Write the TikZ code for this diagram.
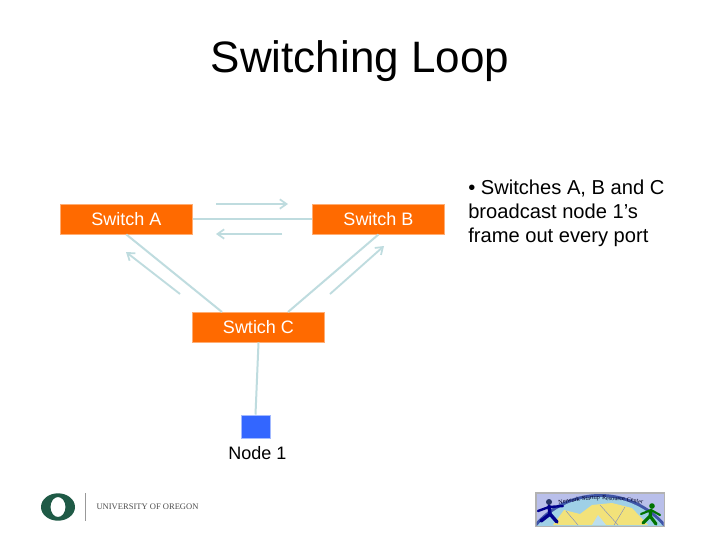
\documentclass[tikz,border=0pt]{standalone}
\usepackage{fontspec}
\setmainfont{Liberation Sans}
\newfontfamily\serifx{Liberation Serif}
\usetikzlibrary{arrows.meta}
\definecolor{linkc}{HTML}{BFDCDF}
\definecolor{orangec}{HTML}{FF6A00}
\definecolor{bluec}{HTML}{3366FF}
\definecolor{greenc}{HTML}{1F5A46}
\definecolor{skyc}{HTML}{B9BFEA}
\definecolor{seac}{HTML}{9FD0E6}
\definecolor{landc}{HTML}{F2E27A}
\definecolor{rimc}{HTML}{3F55A8}
\tikzset{
  switchbox/.style={fill=orangec,draw=orangec!55!white,line width=0.5pt,minimum width=99pt,minimum height=22.2pt,inner sep=0pt,text=white,font=\fontsize{13.5}{16}\selectfont},
  link/.style={draw=linkc,line width=1.5pt},
  flow/.style={draw=linkc,line width=1.4pt,-{Straight Barb[length=5pt,width=7pt,line width=1.3pt]}},
  lbl/.style={inner sep=0pt,font=\fontsize{13.5}{16}\selectfont},
  nsword/.style={inner sep=0pt,text=black!85!blue,font=\serifx\fontsize{4.6}{5}\selectfont}
}
\begin{document}
\begin{tikzpicture}[x=0.75pt,y=-0.75pt]
\useasboundingbox (0,0) rectangle (720,540);
\fill[white] (0,0) rectangle (720,540);
\node[inner sep=0pt,font=\fontsize{33}{38}\selectfont] (title) at (360,61) {Switching Loop};
\node[switchbox] (a) at (126.3,219.3) {Switch A};
\node[switchbox] (b) at (378.5,219.3) {Switch B};
\node[switchbox] (c) at (258.5,327.3) {Swtich C};
\node[fill=bluec,draw=bluec!45!white,line width=0.5pt,minimum width=22pt,minimum height=17.5pt,inner sep=0pt] (n) at (255.5,426.5) {};
\node[lbl] (nl) at (257.5,453) {Node 1};
\draw[link] (a.east) -- (b.west);
\coordinate (ca) at (222,312); \coordinate (cb) at (288,312);
\draw[link] (a.south) -- (ca);
\draw[link] (b.south) -- (cb);
\draw[link] (c.south) -- (n.north);
\coordinate (f1s) at (216,204); \coordinate (f1e) at (288,204);
\coordinate (f2s) at (282,234); \coordinate (f2e) at (216,234);
\coordinate (f3s) at (180,294); \coordinate (f3e) at (126,252);
\coordinate (f4s) at (330,294); \coordinate (f4e) at (384,246);
\draw[flow] (f1s) -- (f1e);
\draw[flow] (f2s) -- (f2e);
\draw[flow] (f3s) -- (f3e);
\draw[flow] (f4s) -- (f4e);
\node[anchor=north west,inner sep=0pt,align=left,font=\fontsize{15.1}{18}\selectfont] (txt) at (468,180) {• Switches A, B and C\\broadcast node 1’s\\frame out every port};
% University of Oregon logo
\fill[greenc,even odd rule] (58,507) ellipse (17 and 13.7) (58,507) ellipse (7.5 and 10);
\draw[gray!80,line width=0.5pt] (85,493) -- (85,521);
\node[inner sep=0pt,text=black!70,font=\serifx\fontsize{6.4}{7}\selectfont] (uo) at (147.5,507) {UNIVERSITY OF OREGON};
% NSRC logo
\fill[gray!60] (535,492) rectangle (665,527);
\fill[skyc] (536.5,493.5) rectangle (663.5,525);
\begin{scope}
\clip (536.5,493.5) rectangle (663.5,525);
\fill[rimc] (600,580) circle (86);
\fill[seac] (600,580) circle (83);
\fill[landc] (553,525) -- (564,510) -- (580,514) -- (592,505) -- (612,503) -- (632,508) -- (648,525) -- cycle;
\fill[seac!70!white] (592,525) -- (598,515) -- (606,525) -- cycle;
\draw[rimc!70!white,line width=0.3pt] (566,511) -- (578,525) (600,505) -- (618,525) (625,507) -- (614,525);
\end{scope}
\fill[rimc!60!black] (549,502) circle (3);
\draw[blue!55!black,line width=2.6pt,line cap=round] (549,506) -- (550,514) -- (541,521) (550,514) -- (557,522);
\draw[blue!55!black,line width=1.8pt,line cap=round] (538,511) -- (549,507) -- (563,506);
\fill[green!45!black] (652,506) circle (2.8);
\draw[green!45!black,line width=2.4pt,line cap=round] (651,510) -- (650,516) -- (643,523) (650,516) -- (656,524);
\draw[green!45!black,line width=1.6pt,line cap=round] (641,514) -- (651,510) -- (660,515);
\node[nsword,rotate=8] (w1) at (569,500.5) {Network};
\node[nsword,rotate=2] (w2) at (591,498.5) {Startup};
\node[nsword,rotate=-3] (w3) at (613.5,498.5) {Resource};
\node[nsword,rotate=-9] (w4) at (635,500.5) {Center};
\end{tikzpicture}
\end{document}
